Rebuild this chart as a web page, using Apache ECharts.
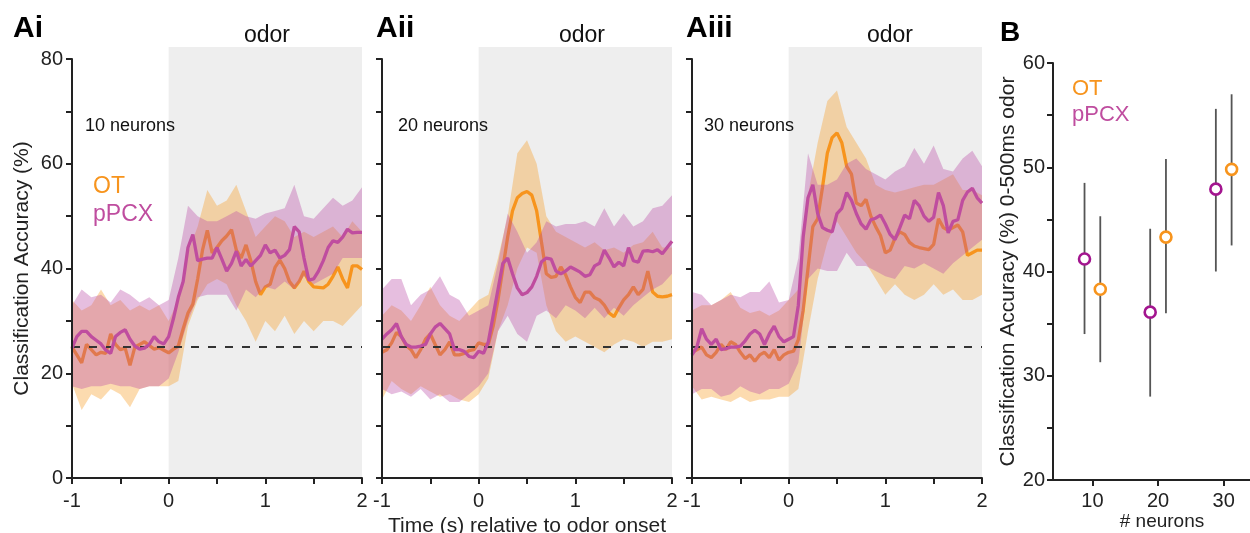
<!DOCTYPE html>
<html>
<head>
<meta charset="utf-8">
<script src="https://cdn.jsdelivr.net/npm/echarts@6/dist/echarts.min.js"></script>
<style>
  html, body { margin: 0; padding: 0; background: #fff; }
  #chart { width: 1250px; height: 533px; }
</style>
</head>
<body>
<div id="chart"></div>
<script>
// sample times (s) for mean traces and for SEM bands
const lineT = [-1, -0.95, -0.9, -0.85, -0.8, -0.75, -0.7, -0.65, -0.6, -0.55, -0.5, -0.45, -0.4, -0.35, -0.3, -0.25, -0.2, -0.15, -0.1, -0.05,
  0, 0.05, 0.1, 0.15, 0.2, 0.25, 0.3, 0.35, 0.4, 0.45, 0.5, 0.55, 0.6, 0.65, 0.7, 0.75, 0.8, 0.85, 0.9, 0.95,
  1, 1.05, 1.1, 1.15, 1.2, 1.25, 1.3, 1.35, 1.4, 1.45, 1.5, 1.55, 1.6, 1.65, 1.7, 1.75, 1.8, 1.85, 1.9, 1.95, 2]
const bandT = [-1, -0.9, -0.8, -0.7, -0.6, -0.5, -0.4, -0.3, -0.2, -0.1, 0, 0.1, 0.2, 0.3, 0.4, 0.5, 0.6, 0.7, 0.8, 0.9,
  1, 1.1, 1.2, 1.3, 1.4, 1.5, 1.6, 1.7, 1.8, 1.9, 2]
const odorWindow = [0, 2]
const chance = 25

// Ai - 10 neurons
const aiOT = [25, 23.5, 22, 25.5, 24.5, 23.5, 24, 23.8, 27.5, 25.5, 24.5, 24.8, 21.5, 25, 25.5, 26, 25.3, 24.6, 24.9, 24.4,
  23.9, 24.6, 25.2, 28.5, 31.5, 33.2, 38, 43.5, 47.3, 43, 44, 45.3, 46.2, 47.4, 43.5, 42, 44.5, 41.5, 37.5, 35,
  36.5, 37, 40.2, 41.6, 40, 37.5, 36.3, 37.5, 39.5, 37.5, 36.5, 36.4, 36.3, 37, 38.5, 40.3, 38, 36.3, 40.5, 40.5, 39.8]
const aiPC = [24.8, 27, 28, 28, 27, 26.3, 25.6, 24.4, 23.8, 27, 27.8, 28.3, 26.5, 25.2, 24.6, 24.8, 25.5, 27, 26, 25.6,
  27, 30.5, 34.5, 37.5, 44, 46.5, 41.5, 41.8, 42, 42, 44, 41.8, 39.5, 41, 43.3, 40.5, 41.7, 40.5, 41.5, 42.5,
  44.5, 43, 43.5, 42, 42.5, 43.6, 48, 47, 42, 37.8, 38, 39.5, 41.5, 44, 45.3, 45, 46, 47.5, 46.8, 46.9, 46.9]
const aiOTlo = [18, 13, 16, 15, 17, 16, 13.5, 17, 17.5, 17.5, 17.5, 18.5, 29, 34, 37, 38, 37, 33, 30, 26, 30, 28, 31, 27.5, 30, 28, 30, 30, 29, 31, 33]
const aiOThi = [34, 32, 33, 36, 33, 34, 32, 33, 32, 33, 30, 34, 43, 48, 55, 52, 53, 56, 51, 46, 48, 50, 49, 46, 47, 46, 47, 48, 46, 49, 47]
const aiPClo = [17.5, 17, 17.5, 17.5, 18, 17.5, 17.5, 17, 17.5, 17.5, 19, 24, 30, 34.5, 35, 35, 35, 32, 36, 34.5, 36.5, 36, 37.5, 36, 38.5, 37, 38, 39, 42, 42, 42]
const aiPChi = [33, 36, 34.5, 35, 33.5, 36, 35, 33.5, 34.5, 33, 34, 42, 52, 50, 49, 49, 50, 51, 50, 49.5, 50.5, 51, 51.5, 56, 50, 49.5, 51.5, 53.5, 52, 53, 55.5]

// Aii - 20 neurons
const aiiOT = [24, 24.5, 25.8, 27.8, 27, 25.3, 24.5, 23, 24.5, 26.5, 27.5, 25.5, 23.5, 24.5, 26, 23.5, 23.5, 23.8, 24.3, 24.5,
  25.8, 25.5, 25.5, 29, 34, 40, 46, 51, 53.5, 54.3, 54.7, 54, 51, 45, 39, 38.3, 38.5, 40.3, 38.8, 36.5,
  34.5, 33.5, 35.5, 35.5, 34.4, 34, 33, 31.5, 30.8, 32.5, 34, 35, 36.5, 35, 36, 39.5, 35.5, 34.7, 34.6, 34.7, 35]
const aiiPC = [26.5, 27.5, 28.3, 29.5, 27, 25.5, 25, 25, 25.2, 25.5, 27.5, 28.8, 29.5, 28.5, 27.5, 24.5, 24.5, 24.2, 23.2, 23,
  24.2, 23.8, 26, 31, 36, 41, 42, 39, 36.3, 35, 35.4, 36.5, 38.5, 41.3, 42, 41.8, 39.5, 39, 39.5, 40.3,
  39.8, 39.3, 38.5, 38.8, 40.5, 41, 43.5, 42, 40.3, 41.2, 40.5, 44, 41.5, 41.2, 43.3, 43.4, 43.2, 43.6, 42.8, 44, 45.2]
const aiiOTlo = [15, 18.5, 17, 16, 17.5, 16.5, 15.5, 16, 15, 14.5, 16, 19, 28, 33, 40, 44, 43, 33, 28, 26, 27, 26, 25, 24, 25.5, 26.5, 26, 25, 26, 26, 26.5]
const aiiOThi = [31, 33, 32, 30, 33, 36.5, 33, 31, 30, 32, 34, 35, 42, 50, 62, 64.5, 60, 50, 47, 46, 45, 44, 45, 43.5, 44, 43, 44.5, 45, 47, 44, 44]
const aiiPClo = [17, 16, 16.5, 15.5, 17, 15, 16, 14.5, 14.5, 16, 17.5, 20, 28, 31, 27.5, 26, 31, 32, 30.5, 33, 32, 30.5, 32.5, 30.5, 32.5, 31, 33, 34.5, 36, 37, 39]
const aiiPChi = [36, 38, 38, 33, 35, 36, 38.5, 35, 34, 31, 32, 33, 41, 50.5, 47, 43, 45, 49, 48, 48.5, 48.5, 49, 48, 51.5, 48, 50.5, 48, 49, 51.5, 52, 54]

// Aiii - 30 neurons
const aiiiOT = [24, 24.5, 25, 23.5, 23, 24, 25.5, 24.5, 26, 25.5, 24, 22.8, 23.5, 22.3, 23.5, 24, 23, 24.5, 22.5, 23.5,
  24, 24.2, 26.4, 32, 40, 48, 49.5, 55.5, 62, 65, 65.9, 64, 59.5, 58, 52.5, 52, 53.2, 50, 48, 46.3,
  43, 43.5, 45.8, 47, 46.5, 45, 44.3, 44, 43.8, 43.6, 44.6, 49.5, 47.8, 47.3, 47.8, 48.3, 47, 42.5, 43, 43.5, 43.5]
const aiiiPC = [23.5, 25, 28.5, 26.5, 25.5, 26.5, 24.5, 24.7, 25, 25, 25.2, 26.2, 27.5, 28.2, 27.5, 25.5, 27.5, 29, 27, 26,
  26.5, 27, 33, 46, 53.5, 56, 50.5, 47.8, 47.3, 47, 50.5, 51.5, 54.5, 53, 50.5, 48.5, 47.5, 49.3, 49.6, 50.2,
  48.5, 46.5, 45.5, 47.8, 50.2, 49.5, 53, 52, 50, 49, 49.8, 54.5, 52, 46.8, 49, 49.3, 53, 54.6, 55.3, 53.5, 52.5]
const aiiiOTlo = [17.5, 15, 15.5, 15, 14.5, 15.5, 14.5, 15, 15, 15.5, 15.5, 17, 28, 38, 45, 49, 46, 43, 41, 38, 35, 37, 35, 34, 35, 37, 35, 36, 34, 34, 35]
const aiiiOThi = [32, 33, 33, 34, 35.5, 32.5, 31.5, 32, 31, 32, 34, 36, 54, 64, 72, 74, 67, 64, 61, 56, 55, 54.5, 55, 55.5, 56, 56, 57, 58, 55, 55, 54]
const aiiiPClo = [16, 17, 17, 15.5, 16, 17.5, 16.5, 16, 17, 17, 18, 22, 38, 40, 39.5, 39.5, 43, 40.5, 40.5, 39.5, 38.5, 38, 40.5, 40, 41, 40, 39, 41, 42.5, 44, 45.5]
const aiiiPChi = [35.5, 35, 33, 34, 35, 34.5, 35.5, 35.5, 37.5, 33.5, 34, 42, 62, 56, 56, 57, 60, 61, 59, 58, 57, 58.5, 59.5, 63, 60, 63.5, 59, 58.5, 61, 62.5, 59.5]

// B - accuracy 0-500 ms vs population size
const neurons = [10, 20, 30]
const bOT = [38.3, 43.3, 49.8]
const bOTlo = [31.3, 36, 42.5]
const bOThi = [45.3, 50.8, 57]
const bPC = [41.2, 36.1, 47.9]
const bPClo = [34, 28, 40]
const bPChi = [48.5, 44.1, 55.6]

const FONT = '"Liberation Sans", Arial, Helvetica, sans-serif'
const AXIS = '#222'
const ORANGE = '#f7941d'
const PURPLE = '#bf4d9f'
const PURPLE_DOT = '#a3158f'
const OT_FILL = 'rgba(247, 160, 45, 0.38)'
const PC_FILL = 'rgba(185, 75, 165, 0.36)'

const panels = [
  { left: 72, label: '10 neurons', ot: aiOT, pc: aiPC, otLo: aiOTlo, otHi: aiOThi, pcLo: aiPClo, pcHi: aiPChi },
  { left: 382, label: '20 neurons', ot: aiiOT, pc: aiiPC, otLo: aiiOTlo, otHi: aiiOThi, pcLo: aiiPClo, pcHi: aiiPChi },
  { left: 692, label: '30 neurons', ot: aiiiOT, pc: aiiiPC, otLo: aiiiOTlo, otHi: aiiiOThi, pcLo: aiiiPClo, pcHi: aiiiPChi }
]

const chart = echarts.init(document.getElementById('chart'))

const grid = []
const xAxis = []
const yAxis = []
const series = []

const tickStyle = { show: true, length: 6, lineStyle: { color: AXIS, width: 2 } }
const lineAxis = { show: true, onZero: false, lineStyle: { color: AXIS, width: 2 } }
const tickFont = { color: AXIS, fontSize: 20, fontFamily: FONT }
const titleFont = { color: AXIS, fontSize: 21, fontFamily: FONT }

const band = (ax, lo, hi, fill, z) => ({
  type: 'custom', xAxisIndex: ax, yAxisIndex: ax, z, silent: true,
  data: bandT.map((t, i) => [t, lo[i], hi[i]]),
  encode: { x: 0, y: [1, 2] },
  renderItem: (params, api) => {
    if (params.dataIndex !== 0) return
    const pts = []
    for (let i = 0; i < bandT.length; i++) pts.push(api.coord([bandT[i], hi[i]]))
    for (let i = bandT.length - 1; i >= 0; i--) pts.push(api.coord([bandT[i], lo[i]]))
    return { type: 'polygon', shape: { points: pts }, style: { fill } }
  }
})

const trace = (ax, ys, color, z) => ({
  type: 'line', xAxisIndex: ax, yAxisIndex: ax, z, silent: true,
  data: lineT.map((t, i) => [t, ys[i]]),
  symbol: 'none', showSymbol: false,
  lineStyle: { color, width: 3.3 }
})

// time-course panels
panels.forEach((p, i) => {
  grid.push({ left: p.left, top: 59, width: 290, height: 419, outerBoundsMode: 'none' })
  xAxis.push({
    type: 'value', gridIndex: i, min: -1, max: 2, interval: 0.5, z: 10,
    axisLine: lineAxis, axisTick: tickStyle, splitLine: { show: false },
    axisLabel: { ...tickFont, margin: 13, formatter: v => (Number.isInteger(v) ? String(v) : '') },
    name: i === 1 ? 'Time (s) relative to odor onset' : '',
    nameLocation: 'middle', nameGap: 30, nameTextStyle: titleFont
  })
  yAxis.push({
    type: 'value', gridIndex: i, min: 0, max: 80, interval: 10, z: 10,
    axisLine: lineAxis, axisTick: tickStyle, splitLine: { show: false },
    axisLabel: { ...tickFont, show: i === 0, margin: 9, formatter: v => (v % 20 === 0 ? String(v) : '') },
    name: i === 0 ? 'Classification Accuracy (%)' : '',
    nameLocation: 'middle', nameGap: 39, nameTextStyle: titleFont
  })
  series.push(band(i, p.otLo, p.otHi, OT_FILL, 1))
  series.push(trace(i, p.ot, ORANGE, 2))
  series.push(band(i, p.pcLo, p.pcHi, PC_FILL, 3))
  series.push({
    type: 'line', xAxisIndex: i, yAxisIndex: i, z: 4, silent: true,
    data: [[-1, chance], [2, chance]], symbol: 'none',
    lineStyle: { color: '#333', width: 2, type: [8, 9] }
  })
  series.push(trace(i, p.pc, PURPLE, 5))
})

// panel B
grid.push({ left: 1053, top: 63, width: 197, height: 417, outerBoundsMode: 'none' })
xAxis.push({
  type: 'value', gridIndex: 3, min: 4, max: 34, z: 10,
  axisLine: lineAxis, splitLine: { show: false },
  axisTick: { ...tickStyle, customValues: neurons },
  axisLabel: { ...tickFont, customValues: neurons, margin: 11 }
})
yAxis.push({
  type: 'value', gridIndex: 3, min: 20, max: 60, interval: 5, z: 10,
  axisLine: lineAxis, axisTick: tickStyle, splitLine: { show: false },
  axisLabel: { ...tickFont, margin: 8, formatter: v => (v % 10 === 0 ? String(v) : '') },
  name: 'Classification Accuracy (%) 0-500ms odor',
  nameLocation: 'middle', nameGap: 31, nameTextStyle: titleFont
})

const errBars = (lo, hi, dx) => ({
  type: 'custom', xAxisIndex: 3, yAxisIndex: 3, z: 2, silent: true,
  data: neurons.map((n, i) => [n + dx, lo[i], hi[i]]),
  encode: { x: 0, y: [1, 2] },
  renderItem: (params, api) => {
    const a = api.coord([api.value(0), api.value(1)])
    const b = api.coord([api.value(0), api.value(2)])
    return { type: 'line', shape: { x1: a[0], y1: a[1], x2: b[0], y2: b[1] }, style: { stroke: '#555', lineWidth: 1.8 } }
  }
})
const dots = (mean, dx, color) => ({
  type: 'scatter', xAxisIndex: 3, yAxisIndex: 3, z: 3, silent: true,
  data: neurons.map((n, i) => [n + dx, mean[i]]),
  symbol: 'circle', symbolSize: 11,
  itemStyle: { color: '#fff', borderColor: color, borderWidth: 2.6, opacity: 1 }
})
series.push(errBars(bPClo, bPChi, -1.2))
series.push(errBars(bOTlo, bOThi, 1.2))
series.push(dots(bPC, -1.2, PURPLE_DOT))
series.push(dots(bOT, 1.2, ORANGE))

// odor shading: its own hidden grids, reaching a little above the 80 tick
panels.forEach((p, i) => {
  const ax = 4 + i
  grid.push({ left: p.left, top: 47, width: 290, height: 431, outerBoundsMode: 'none' })
  xAxis.push({ type: 'value', gridIndex: ax, min: -1, max: 2, show: false })
  yAxis.push({ type: 'value', gridIndex: ax, min: 0, max: 1, show: false })
  series.push({
    type: 'custom', xAxisIndex: ax, yAxisIndex: ax, z: 0, silent: true,
    data: [odorWindow],
    renderItem: (params, api) => {
      const a = api.coord([odorWindow[0], 1])
      const b = api.coord([odorWindow[1], 0])
      return { type: 'rect', shape: { x: a[0], y: a[1], width: b[0] - a[0], height: b[1] - a[1] }, style: { fill: '#eeeeee' } }
    }
  })
})

const txt = (x, y, text, size, color, weight, align) => ({
  type: 'text', x, y, z: 20, silent: true,
  style: { text, font: `${weight || ''} ${size}px ${FONT}`, fill: color, verticalAlign: 'middle', align: align || 'left' }
})

const graphic = [
  txt(13, 29, 'Ai', 30, '#000', 'bold'),
  txt(376, 29, 'Aii', 30, '#000', 'bold'),
  txt(686, 29, 'Aiii', 30, '#000', 'bold'),
  txt(1000, 33, 'B', 28, '#000', 'bold'),
  txt(267, 36, 'odor', 23, '#111', '', 'center'),
  txt(582, 36, 'odor', 23, '#111', '', 'center'),
  txt(890, 36, 'odor', 23, '#111', '', 'center'),
  txt(85, 126, panels[0].label, 18, '#111'),
  txt(398, 126, panels[1].label, 18, '#111'),
  txt(704, 126, panels[2].label, 18, '#111'),
  txt(93, 187, 'OT', 23, ORANGE),
  txt(93, 215, 'pPCX', 23, PURPLE),
  txt(1072, 89, 'OT', 22, ORANGE),
  txt(1072, 115, 'pPCX', 22, PURPLE),
  txt(1162, 522, '# neurons', 19, AXIS, '', 'center')
]

chart.setOption({
  backgroundColor: '#fff',
  animation: false,
  grid, xAxis, yAxis, series, graphic
})
</script>
</body>
</html>
